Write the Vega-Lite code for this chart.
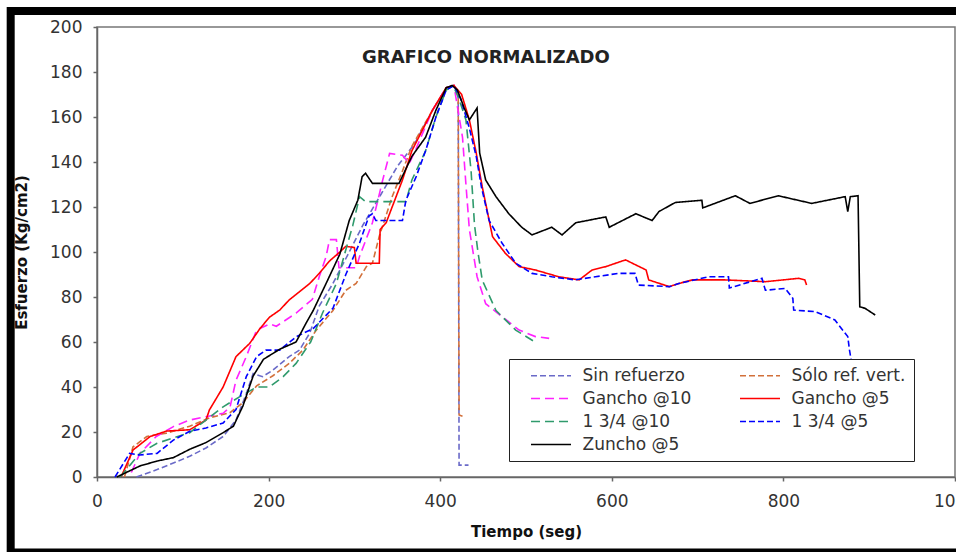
{
  "$schema": "https://vega.github.io/schema/vega-lite/v6.json",
  "width": 858,
  "height": 450,
  "autosize": "none",
  "padding": {"left": 97, "top": 27, "right": 1, "bottom": 75},
  "background": "white",
  "title": {
    "text": "GRAFICO NORMALIZADO",
    "font": "DejaVu Sans",
    "fontSize": 18,
    "fontWeight": "bold",
    "color": "#222222",
    "anchor": "start",
    "frame": "group",
    "dx": 265,
    "offset": -60
  },
  "layer": [
    {
      "data": {"values": [{}]},
      "mark": {"type": "rect", "fill": null, "stroke": "black", "strokeWidth": 8, "clip": false},
      "encoding": {
        "x": {"datum": -100.6, "type": "quantitative"},
        "x2": {"datum": 1010},
        "y": {"datum": 207.1, "type": "quantitative"},
        "y2": {"datum": -33.5}
      }
    },
    {
      "data": {
        "values": [
          {"s":"Sin refuerzo","t":46,"y":0},{"s":"Sin refuerzo","t":70,"y":3.3},{"s":"Sin refuerzo","t":89,"y":6.2},{"s":"Sin refuerzo","t":108,"y":9.2},{"s":"Sin refuerzo","t":127,"y":12.9},{"s":"Sin refuerzo","t":147,"y":18},{"s":"Sin refuerzo","t":162,"y":25.3},{"s":"Sin refuerzo","t":174,"y":37},{"s":"Sin refuerzo","t":182,"y":46},{"s":"Sin refuerzo","t":193,"y":44.6},{"s":"Sin refuerzo","t":205,"y":47.5},{"s":"Sin refuerzo","t":224,"y":53.5},{"s":"Sin refuerzo","t":236,"y":56.4},{"s":"Sin refuerzo","t":248,"y":64},{"s":"Sin refuerzo","t":259,"y":76},{"s":"Sin refuerzo","t":275,"y":86},{"s":"Sin refuerzo","t":294,"y":100},{"s":"Sin refuerzo","t":310,"y":112},{"s":"Sin refuerzo","t":330,"y":125},{"s":"Sin refuerzo","t":350,"y":138},{"s":"Sin refuerzo","t":370,"y":148},{"s":"Sin refuerzo","t":391,"y":163},{"s":"Sin refuerzo","t":407,"y":173},{"s":"Sin refuerzo","t":416,"y":174},{"s":"Sin refuerzo","t":421,"y":171},{"s":"Sin refuerzo","t":422,"y":5.3},{"s":"Sin refuerzo","t":433,"y":5.3},

          {"s":"Sólo ref. vert.","t":32,"y":0},{"s":"Sólo ref. vert.","t":42,"y":13.4},{"s":"Sólo ref. vert.","t":58,"y":18},{"s":"Sólo ref. vert.","t":81,"y":19.5},{"s":"Sólo ref. vert.","t":108,"y":22.6},{"s":"Sólo ref. vert.","t":131,"y":26.3},{"s":"Sólo ref. vert.","t":155,"y":28.6},{"s":"Sólo ref. vert.","t":170,"y":33},{"s":"Sólo ref. vert.","t":186,"y":40.5},{"s":"Sólo ref. vert.","t":205,"y":45},{"s":"Sólo ref. vert.","t":224,"y":50.5},{"s":"Sólo ref. vert.","t":240,"y":56.4},{"s":"Sólo ref. vert.","t":255,"y":65},{"s":"Sólo ref. vert.","t":275,"y":74},{"s":"Sólo ref. vert.","t":290,"y":83},{"s":"Sólo ref. vert.","t":302,"y":86},{"s":"Sólo ref. vert.","t":314,"y":93.5},{"s":"Sólo ref. vert.","t":321,"y":95},{"s":"Sólo ref. vert.","t":329,"y":107},{"s":"Sólo ref. vert.","t":344,"y":124.6},{"s":"Sólo ref. vert.","t":356,"y":136},{"s":"Sólo ref. vert.","t":367,"y":147},{"s":"Sólo ref. vert.","t":391,"y":163},{"s":"Sólo ref. vert.","t":407,"y":173},{"s":"Sólo ref. vert.","t":416,"y":174},{"s":"Sólo ref. vert.","t":421,"y":170},{"s":"Sólo ref. vert.","t":422,"y":27.6},{"s":"Sólo ref. vert.","t":426,"y":27},

          {"s":"Gancho @10","t":40,"y":2},{"s":"Gancho @10","t":50,"y":10.5},{"s":"Gancho @10","t":69,"y":18},{"s":"Gancho @10","t":89,"y":22.4},{"s":"Gancho @10","t":108,"y":25.3},{"s":"Gancho @10","t":127,"y":26.8},{"s":"Gancho @10","t":147,"y":28.3},{"s":"Gancho @10","t":155,"y":31},{"s":"Gancho @10","t":162,"y":43},{"s":"Gancho @10","t":174,"y":53.5},{"s":"Gancho @10","t":186,"y":65.3},{"s":"Gancho @10","t":201,"y":68},{"s":"Gancho @10","t":209,"y":67},{"s":"Gancho @10","t":232,"y":72.8},{"s":"Gancho @10","t":251,"y":79},{"s":"Gancho @10","t":259,"y":89},{"s":"Gancho @10","t":267,"y":98},{"s":"Gancho @10","t":271,"y":105.5},{"s":"Gancho @10","t":279,"y":105.5},{"s":"Gancho @10","t":282,"y":93},{"s":"Gancho @10","t":302,"y":93},{"s":"Gancho @10","t":306,"y":98},{"s":"Gancho @10","t":321,"y":113},{"s":"Gancho @10","t":333,"y":132},{"s":"Gancho @10","t":341,"y":143.8},{"s":"Gancho @10","t":356,"y":143},{"s":"Gancho @10","t":364,"y":139.4},{"s":"Gancho @10","t":372,"y":146},{"s":"Gancho @10","t":391,"y":163},{"s":"Gancho @10","t":407,"y":173},{"s":"Gancho @10","t":416,"y":174},{"s":"Gancho @10","t":426,"y":151},{"s":"Gancho @10","t":430,"y":130},{"s":"Gancho @10","t":434,"y":110},{"s":"Gancho @10","t":443,"y":89},{"s":"Gancho @10","t":453,"y":77},{"s":"Gancho @10","t":472,"y":71.3},{"s":"Gancho @10","t":492,"y":65.3},{"s":"Gancho @10","t":511,"y":62.4},{"s":"Gancho @10","t":527,"y":61.6},

          {"s":"Gancho @5","t":28,"y":0},{"s":"Gancho @5","t":42,"y":12},{"s":"Gancho @5","t":62,"y":18},{"s":"Gancho @5","t":81,"y":20.4},{"s":"Gancho @5","t":108,"y":21},{"s":"Gancho @5","t":127,"y":25.3},{"s":"Gancho @5","t":131,"y":29.8},{"s":"Gancho @5","t":147,"y":40},{"s":"Gancho @5","t":162,"y":53.5},{"s":"Gancho @5","t":178,"y":59.4},{"s":"Gancho @5","t":190,"y":66},{"s":"Gancho @5","t":201,"y":71},{"s":"Gancho @5","t":213,"y":74.2},{"s":"Gancho @5","t":224,"y":78.7},{"s":"Gancho @5","t":248,"y":86},{"s":"Gancho @5","t":259,"y":90.5},{"s":"Gancho @5","t":271,"y":96},{"s":"Gancho @5","t":283,"y":100},{"s":"Gancho @5","t":290,"y":102.5},{"s":"Gancho @5","t":300,"y":102},{"s":"Gancho @5","t":302,"y":95},{"s":"Gancho @5","t":329,"y":95},{"s":"Gancho @5","t":330,"y":110},{"s":"Gancho @5","t":337,"y":113},{"s":"Gancho @5","t":356,"y":132},{"s":"Gancho @5","t":367,"y":145},{"s":"Gancho @5","t":391,"y":163},{"s":"Gancho @5","t":407,"y":173},{"s":"Gancho @5","t":416,"y":174},{"s":"Gancho @5","t":425,"y":170},{"s":"Gancho @5","t":434,"y":158.7},{"s":"Gancho @5","t":442,"y":144},{"s":"Gancho @5","t":449,"y":129},{"s":"Gancho @5","t":453,"y":121.6},{"s":"Gancho @5","t":461,"y":106.8},{"s":"Gancho @5","t":476,"y":99.4},{"s":"Gancho @5","t":492,"y":93.5},{"s":"Gancho @5","t":511,"y":92},{"s":"Gancho @5","t":538,"y":89},{"s":"Gancho @5","t":562,"y":87.6},{"s":"Gancho @5","t":577,"y":92},{"s":"Gancho @5","t":593,"y":93.5},{"s":"Gancho @5","t":616,"y":96.5},{"s":"Gancho @5","t":624,"y":95},{"s":"Gancho @5","t":640,"y":92},{"s":"Gancho @5","t":643,"y":87.6},{"s":"Gancho @5","t":667,"y":84.6},{"s":"Gancho @5","t":678,"y":86},{"s":"Gancho @5","t":694,"y":87.6},{"s":"Gancho @5","t":732,"y":87.6},{"s":"Gancho @5","t":779,"y":86.8},{"s":"Gancho @5","t":818,"y":88.3},{"s":"Gancho @5","t":825,"y":87.6},{"s":"Gancho @5","t":827,"y":85.3},

          {"s":"1 3/4 @10","t":27,"y":0},{"s":"1 3/4 @10","t":50,"y":10.5},{"s":"1 3/4 @10","t":70,"y":15},{"s":"1 3/4 @10","t":108,"y":19.7},{"s":"1 3/4 @10","t":127,"y":25.3},{"s":"1 3/4 @10","t":147,"y":31.2},{"s":"1 3/4 @10","t":166,"y":35.6},{"s":"1 3/4 @10","t":186,"y":40},{"s":"1 3/4 @10","t":201,"y":40},{"s":"1 3/4 @10","t":217,"y":44.6},{"s":"1 3/4 @10","t":232,"y":50.5},{"s":"1 3/4 @10","t":249,"y":60},{"s":"1 3/4 @10","t":263,"y":73},{"s":"1 3/4 @10","t":279,"y":86},{"s":"1 3/4 @10","t":290,"y":101},{"s":"1 3/4 @10","t":298,"y":111.6},{"s":"1 3/4 @10","t":306,"y":124.6},{"s":"1 3/4 @10","t":313,"y":122.4},{"s":"1 3/4 @10","t":360,"y":122.4},{"s":"1 3/4 @10","t":367,"y":132},{"s":"1 3/4 @10","t":383,"y":145},{"s":"1 3/4 @10","t":395,"y":160},{"s":"1 3/4 @10","t":407,"y":172},{"s":"1 3/4 @10","t":415,"y":174},{"s":"1 3/4 @10","t":422,"y":168},{"s":"1 3/4 @10","t":430,"y":158.7},{"s":"1 3/4 @10","t":436,"y":136},{"s":"1 3/4 @10","t":440,"y":112},{"s":"1 3/4 @10","t":444,"y":100},{"s":"1 3/4 @10","t":449,"y":87.5},{"s":"1 3/4 @10","t":465,"y":74},{"s":"1 3/4 @10","t":488,"y":65.3},{"s":"1 3/4 @10","t":513,"y":59.4},

          {"s":"1 3/4 @5","t":21,"y":0},{"s":"1 3/4 @5","t":38,"y":10.5},{"s":"1 3/4 @5","t":50,"y":9.8},{"s":"1 3/4 @5","t":70,"y":10.5},{"s":"1 3/4 @5","t":89,"y":16.4},{"s":"1 3/4 @5","t":108,"y":20.3},{"s":"1 3/4 @5","t":127,"y":21.8},{"s":"1 3/4 @5","t":147,"y":24},{"s":"1 3/4 @5","t":162,"y":30},{"s":"1 3/4 @5","t":174,"y":44.6},{"s":"1 3/4 @5","t":186,"y":53.5},{"s":"1 3/4 @5","t":197,"y":56.4},{"s":"1 3/4 @5","t":213,"y":56.4},{"s":"1 3/4 @5","t":232,"y":62.3},{"s":"1 3/4 @5","t":252,"y":66},{"s":"1 3/4 @5","t":275,"y":75},{"s":"1 3/4 @5","t":290,"y":90},{"s":"1 3/4 @5","t":306,"y":104},{"s":"1 3/4 @5","t":317,"y":116},{"s":"1 3/4 @5","t":321,"y":117},{"s":"1 3/4 @5","t":325,"y":114},{"s":"1 3/4 @5","t":356,"y":114},{"s":"1 3/4 @5","t":360,"y":123},{"s":"1 3/4 @5","t":372,"y":133.5},{"s":"1 3/4 @5","t":383,"y":145},{"s":"1 3/4 @5","t":395,"y":160},{"s":"1 3/4 @5","t":407,"y":172},{"s":"1 3/4 @5","t":416,"y":174},{"s":"1 3/4 @5","t":424,"y":168},{"s":"1 3/4 @5","t":434,"y":155},{"s":"1 3/4 @5","t":442,"y":142.5},{"s":"1 3/4 @5","t":448,"y":129},{"s":"1 3/4 @5","t":457,"y":114},{"s":"1 3/4 @5","t":472,"y":104},{"s":"1 3/4 @5","t":488,"y":95},{"s":"1 3/4 @5","t":507,"y":90.5},{"s":"1 3/4 @5","t":530,"y":89},{"s":"1 3/4 @5","t":557,"y":87.6},{"s":"1 3/4 @5","t":581,"y":89},{"s":"1 3/4 @5","t":608,"y":90.5},{"s":"1 3/4 @5","t":627,"y":90.5},{"s":"1 3/4 @5","t":631,"y":85.3},{"s":"1 3/4 @5","t":667,"y":84.6},{"s":"1 3/4 @5","t":678,"y":86},{"s":"1 3/4 @5","t":713,"y":89},{"s":"1 3/4 @5","t":736,"y":89},{"s":"1 3/4 @5","t":737,"y":84},{"s":"1 3/4 @5","t":775,"y":88.3},{"s":"1 3/4 @5","t":779,"y":83},{"s":"1 3/4 @5","t":802,"y":83.8},{"s":"1 3/4 @5","t":811,"y":79.4},{"s":"1 3/4 @5","t":812,"y":74.2},{"s":"1 3/4 @5","t":837,"y":73.5},{"s":"1 3/4 @5","t":860,"y":69.8},{"s":"1 3/4 @5","t":875,"y":62.4},{"s":"1 3/4 @5","t":877,"y":56.5},{"s":"1 3/4 @5","t":879,"y":52},

          {"s":"Zuncho @5","t":23,"y":0},{"s":"Zuncho @5","t":50,"y":4.9},{"s":"Zuncho @5","t":70,"y":7.1},{"s":"Zuncho @5","t":89,"y":8.6},{"s":"Zuncho @5","t":108,"y":12.3},{"s":"Zuncho @5","t":127,"y":15.3},{"s":"Zuncho @5","t":147,"y":19.7},{"s":"Zuncho @5","t":159,"y":22.6},{"s":"Zuncho @5","t":170,"y":31.5},{"s":"Zuncho @5","t":182,"y":44.9},{"s":"Zuncho @5","t":194,"y":52.3},{"s":"Zuncho @5","t":213,"y":56.8},{"s":"Zuncho @5","t":232,"y":60},{"s":"Zuncho @5","t":244,"y":68.6},{"s":"Zuncho @5","t":252,"y":74},{"s":"Zuncho @5","t":267,"y":86},{"s":"Zuncho @5","t":283,"y":99},{"s":"Zuncho @5","t":294,"y":114},{"s":"Zuncho @5","t":304,"y":123},{"s":"Zuncho @5","t":309,"y":133.5},{"s":"Zuncho @5","t":313,"y":135},{"s":"Zuncho @5","t":321,"y":130.5},{"s":"Zuncho @5","t":352,"y":130.5},{"s":"Zuncho @5","t":367,"y":142.5},{"s":"Zuncho @5","t":383,"y":151},{"s":"Zuncho @5","t":395,"y":163},{"s":"Zuncho @5","t":407,"y":173},{"s":"Zuncho @5","t":414,"y":174},{"s":"Zuncho @5","t":420,"y":172},{"s":"Zuncho @5","t":428,"y":164},{"s":"Zuncho @5","t":434,"y":158.7},{"s":"Zuncho @5","t":443,"y":164},{"s":"Zuncho @5","t":446,"y":144},{"s":"Zuncho @5","t":453,"y":132},{"s":"Zuncho @5","t":465,"y":124.6},{"s":"Zuncho @5","t":480,"y":117},{"s":"Zuncho @5","t":495,"y":111},{"s":"Zuncho @5","t":507,"y":107.6},{"s":"Zuncho @5","t":530,"y":111},{"s":"Zuncho @5","t":542,"y":107.6},{"s":"Zuncho @5","t":558,"y":113},{"s":"Zuncho @5","t":593,"y":115.6},{"s":"Zuncho @5","t":597,"y":111},{"s":"Zuncho @5","t":628,"y":117},{"s":"Zuncho @5","t":647,"y":114},{"s":"Zuncho @5","t":655,"y":118},{"s":"Zuncho @5","t":674,"y":122},{"s":"Zuncho @5","t":705,"y":123},{"s":"Zuncho @5","t":706,"y":119.6},{"s":"Zuncho @5","t":744,"y":125},{"s":"Zuncho @5","t":761,"y":121.6},{"s":"Zuncho @5","t":794,"y":125},{"s":"Zuncho @5","t":833,"y":121.6},{"s":"Zuncho @5","t":872,"y":124.6},{"s":"Zuncho @5","t":875,"y":118},{"s":"Zuncho @5","t":878,"y":124.6},{"s":"Zuncho @5","t":887,"y":125},{"s":"Zuncho @5","t":889,"y":75.6},{"s":"Zuncho @5","t":895,"y":75},{"s":"Zuncho @5","t":907,"y":72}
        ]
      },
      "mark": {"type": "line", "strokeWidth": 1.6},
      "encoding": {
        "x": {
          "field": "t", "type": "quantitative",
          "scale": {"domain": [0, 1000], "nice": false, "zero": false},
          "axis": {"values": [0, 200, 400, 600, 800, 1000], "format": "d", "title": "Tiempo (seg)"}
        },
        "y": {
          "field": "y", "type": "quantitative",
          "scale": {"domain": [0, 200], "nice": false},
          "axis": {"values": [0, 20, 40, 60, 80, 100, 120, 140, 160, 180, 200], "format": "d", "title": "Esfuerzo (Kg/cm2)"}
        },
        "color": {
          "field": "s", "type": "nominal", "title": null,
          "scale": {
            "domain": ["Sin refuerzo", "Sólo ref. vert.", "Gancho @10", "Gancho @5", "1 3/4 @10", "1 3/4 @5", "Zuncho @5"],
            "range": ["#6a6ac8", "#d2703a", "#ff22ff", "#ff0000", "#2f9a6c", "#0000ff", "#000000"]
          }
        },
        "strokeDash": {
          "field": "s", "type": "nominal", "title": null,
          "scale": {
            "domain": ["Sin refuerzo", "Sólo ref. vert.", "Gancho @10", "Gancho @5", "1 3/4 @10", "1 3/4 @5", "Zuncho @5"],
            "range": [[6, 3], [6, 3], [9, 5], [1, 0], [9, 5], [6, 3], [1, 0]]
          }
        }
      }
    }
  ],
  "config": {
    "font": "DejaVu Sans",
    "view": {"stroke": "#777777", "strokeWidth": 1.5},
    "axis": {
      "grid": false,
      "domainColor": "#666666",
      "domainWidth": 1.5,
      "tickColor": "#666666",
      "tickWidth": 1.5,
      "tickSize": 4,
      "labelFont": "DejaVu Sans",
      "labelFontSize": 17,
      "labelColor": "#333333",
      "titleFont": "DejaVu Sans",
      "titleFontSize": 15,
      "titleFontWeight": "bold",
      "titleColor": "#111111"
    },
    "axisX": {"labelPadding": 12, "titlePadding": 15, "labelFlush": false, "labelOverlap": false},
    "axisY": {"labelPadding": 11, "titlePadding": 20, "labelOverlap": false},
    "legend": {
      "orient": "none",
      "legendX": 412,
      "legendY": 332,
      "direction": "horizontal",
      "columns": 2,
      "symbolType": "M-4,0H4",
      "symbolSize": 100,
      "symbolStrokeWidth": 1.6,
      "symbolOffset": 25.5,
      "labelOffset": 23,
      "columnPadding": 34,
      "rowPadding": 5,
      "padding": 8,
      "labelFont": "DejaVu Sans",
      "labelFontSize": 17,
      "labelColor": "#333333",
      "strokeColor": "#222222",
      "fillColor": "white",
      "cornerRadius": 0
    }
  }
}
